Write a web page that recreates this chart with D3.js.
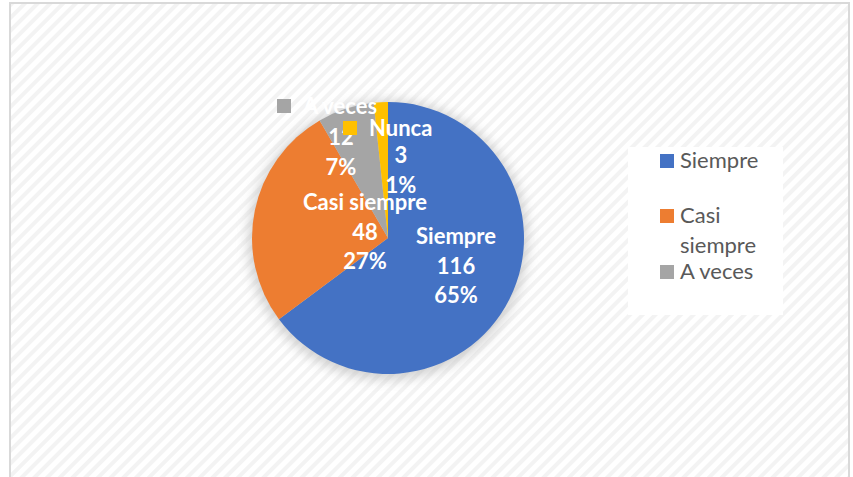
<!DOCTYPE html>
<html lang="es">
<head>
<meta charset="utf-8">
<title>Pie</title>
<script src="https://cdn.jsdelivr.net/npm/d3@7"></script>
<style>
  body { margin: 0; background: #fff; }
</style>
</head>
<body>
<script>
var categories = ["Siempre", "Casi siempre", "A veces", "Nunca"];
var values = [116, 48, 12, 3];
var percentLabels = ["65%", "27%", "7%", "1%"];
var colors = ["#4472c4", "#ed7d31", "#a5a5a5", "#ffc000"];

var w = 853, h = 477;
var cx = 388, cy = 238, r = 136;

var svg = d3.select("body").append("svg")
  .attr("width", w)
  .attr("height", h);

var defs = svg.append("defs");

// diagonal stripes in the background
var pat = defs.append("pattern")
  .attr("id", "stripes")
  .attr("patternUnits", "userSpaceOnUse")
  .attr("width", 9)
  .attr("height", 9)
  .attr("patternTransform", "rotate(45)");
pat.append("rect").attr("width", 9).attr("height", 9).attr("fill", "#ffffff");
pat.append("rect").attr("width", 4).attr("height", 9).attr("fill", "#f3f3f3");

var blur = defs.append("filter")
  .attr("id", "glow")
  .attr("x", "-30%").attr("y", "-30%")
  .attr("width", "160%").attr("height", "160%");
blur.append("feGaussianBlur").attr("stdDeviation", 6);

svg.append("rect")
  .attr("x", 10).attr("y", 3)
  .attr("width", 839).attr("height", 480)
  .attr("fill", "url(#stripes)")
  .attr("stroke", "#d9d9d9")
  .attr("stroke-width", 2);

// soft shadow behind the pie
svg.append("circle")
  .attr("cx", cx).attr("cy", cy + 2)
  .attr("r", r + 4)
  .attr("fill", "#b5b5b5")
  .attr("opacity", 0.6)
  .attr("filter", "url(#glow)");

var pie = d3.pie().sort(null)(values);
var arc = d3.arc().innerRadius(0).outerRadius(r);

var g = svg.append("g").attr("transform", "translate(" + cx + "," + cy + ")");

g.selectAll("path")
  .data(pie)
  .enter()
  .append("path")
  .attr("d", arc)
  .attr("fill", function (d, i) { return colors[i]; });

// data labels: centre x and first baseline of the number block, relative to pie centre
var labelPos = [[68, 6], [-23, -28], [-47, -93], [13, -75]];
// heading (key + name) for the small slices: left x, baseline
var headPos = [null, null, [-111, -124], [-45, -102]];
var fontFam = "Lato, 'Open Sans', sans-serif";
var lineH = 29.5;

var labels = svg.append("g");
pie.forEach(function (d, i) {
  var lx = cx + labelPos[i][0], ly = cy + labelPos[i][1];
  var lines;
  if (headPos[i] == null) {
    lines = [categories[i], values[i], percentLabels[i]];
  } else {
    lines = [values[i], percentLabels[i]];
    var hx = cx + headPos[i][0], hy = cy + headPos[i][1];
    labels.append("rect")
      .attr("x", hx).attr("y", hy - 15)
      .attr("width", 14).attr("height", 14)
      .attr("fill", colors[i]);
    labels.append("text")
      .attr("x", hx + 26).attr("y", hy)
      .attr("font-family", fontFam)
      .attr("font-weight", "bold")
      .attr("font-size", "22px")
      .attr("fill", "#fff")
      .text(categories[i]);
  }
  lines.forEach(function (t, k) {
    labels.append("text")
      .attr("x", lx)
      .attr("y", ly + k * lineH)
      .attr("text-anchor", "middle")
      .attr("font-family", fontFam)
      .attr("font-weight", "bold")
      .attr("font-size", "22px")
      .attr("fill", "#fff")
      .text(t);
  });
});

// legend
var legend = svg.append("g");
legend.append("rect")
  .attr("x", 628).attr("y", 147)
  .attr("width", 155).attr("height", 168)
  .attr("fill", "#fff");

var legendRows = [
  { i: 0, lines: ["Siempre"], y: 168 },
  { i: 1, lines: ["Casi", "siempre"], y: 223 },
  { i: 2, lines: ["A veces"], y: 279 }
];
legendRows.forEach(function (row) {
  legend.append("rect")
    .attr("x", 660).attr("y", row.y - 14)
    .attr("width", 14).attr("height", 14)
    .attr("fill", colors[row.i]);
  row.lines.forEach(function (t, k) {
    legend.append("text")
      .attr("x", 680).attr("y", row.y + k * 30)
      .attr("font-family", fontFam)
      .attr("font-size", "22px")
      .attr("fill", "#595959")
      .text(t);
  });
});
</script>
</body>
</html>
